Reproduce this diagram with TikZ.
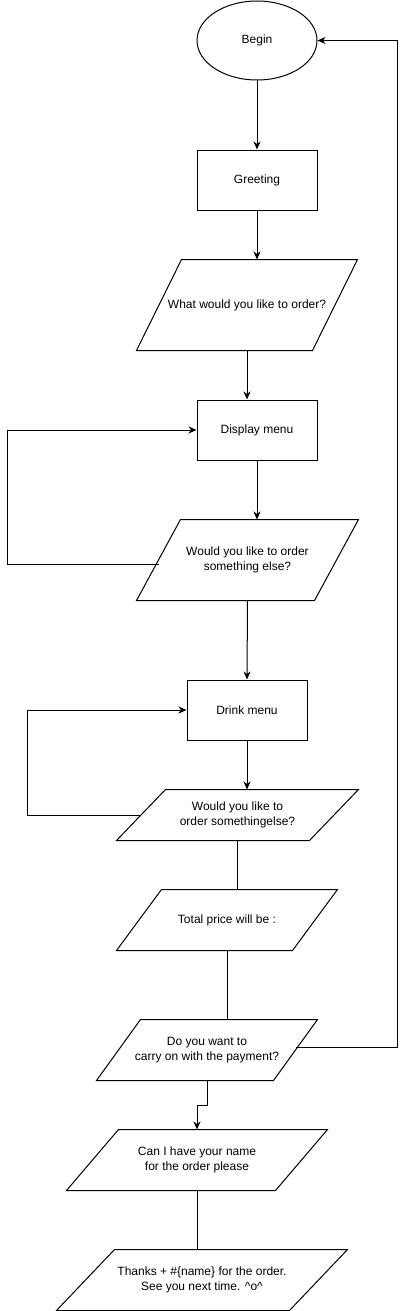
\documentclass[tikz,border=0pt]{standalone}
\usepackage{fontspec}
\setmainfont{Liberation Sans}
\usetikzlibrary{shapes.geometric,arrows.meta,calc}

% outline of a slanted input/output box round a named node
\newcommand\slantbox[2]{%
  \draw ($(#1.north west)+(#2,0)$) -- (#1.north east)
        -- ($(#1.south east)-(#2,0)$) -- (#1.south west) -- cycle;}

\begin{document}
\begin{tikzpicture}[x=1pt,y=-1pt,line width=1pt,
    font=\fontsize{12}{14.5}\selectfont,
    box/.style={draw,minimum width=120pt,minimum height=60pt,inner sep=0pt},
    io/.style={inner sep=0pt,align=center},
    flow/.style={-{Stealth[length=8pt,width=7pt,inset=2.5pt]}}]
     \fill[white] (0,0) rectangle (406,1311);
     \useasboundingbox (0,0) rectangle (406,1311);
     \node (begin) [ellipse,draw,minimum width=120pt,minimum height=79pt,inner sep=0pt] at (257,40.5) {Begin};
     \node (greet) [box] at (257,180) {Greeting};
     \node (ask) [io,minimum width=220pt,minimum height=90pt] at (247,305) {What would you like to order?};
     \node (dmenu) [box] at (257,430) {Display menu};
     \node (more) [io,minimum width=221pt,minimum height=80pt] at (247.5,560) {Would you like to order\\something else?};
     \node (drink) [box] at (247,710) {Drink menu};
     \node (moredrink) [io,minimum width=241pt,minimum height=50pt] at (237.5,815) {Would you like to\\order somethingelse?};
     \node (total) [io,minimum width=220pt,minimum height=60pt] at (227,920) {Total price will be :};
     \node (pay) [io,minimum width=220pt,minimum height=60pt] at (207,1050) {Do you want to\\carry on with the payment?};
     \node (name) [io,minimum width=260pt,minimum height=60pt] at (197,1160) {Can I have your name\\for the order please};
     \node (thanks) [io,minimum width=290pt,minimum height=60pt] at (202,1280) {Thanks + \#\{name\} for the order.\\See you next time. \textasciicircum o\textasciicircum};
     \slantbox{ask}{45}
     \slantbox{more}{44}
     \slantbox{moredrink}{49}
     \slantbox{total}{45}
     \slantbox{pay}{44}
     \slantbox{name}{52}
     \slantbox{thanks}{58}
     % outer lines of the two loops and the way back
     \coordinate (loopa) at (7,0);
     \coordinate (loopb) at (27,0);
     \coordinate (back) at (397,0);
     \draw[flow] (begin.south) -- (greet.north);
     \draw[flow] (greet.south) -- (greet.south |- ask.north);
     \draw[flow] (ask.south) -- (ask.south |- dmenu.north);
     \draw[flow] (dmenu.south) -- (dmenu.south |- more.north);
     \draw[flow] ($(more.west)+(22,4)$) -- (loopa |- 0,564) |- (dmenu.west);
     \draw[flow] (more.south) -- (drink.north);
     \draw[flow] (drink.south) -- (drink.south |- moredrink.north);
     \draw[flow] ($(moredrink.west)+(24.5,0)$) -- (loopb |- moredrink.west) |- (drink.west);
     \draw (moredrink.south) -- (moredrink.south |- total.north);
     \draw (total.south) -- (total.south |- pay.north);
     \draw[flow] ($(pay.east)+(-22,-3)$) -- (back |- 0,1047) |- (begin.east);
     \draw[flow] (pay.south) -- ++(0,25) -| (name.north);
     \draw (name.south) -- (name.south |- thanks.north);
\end{tikzpicture}
\end{document}
